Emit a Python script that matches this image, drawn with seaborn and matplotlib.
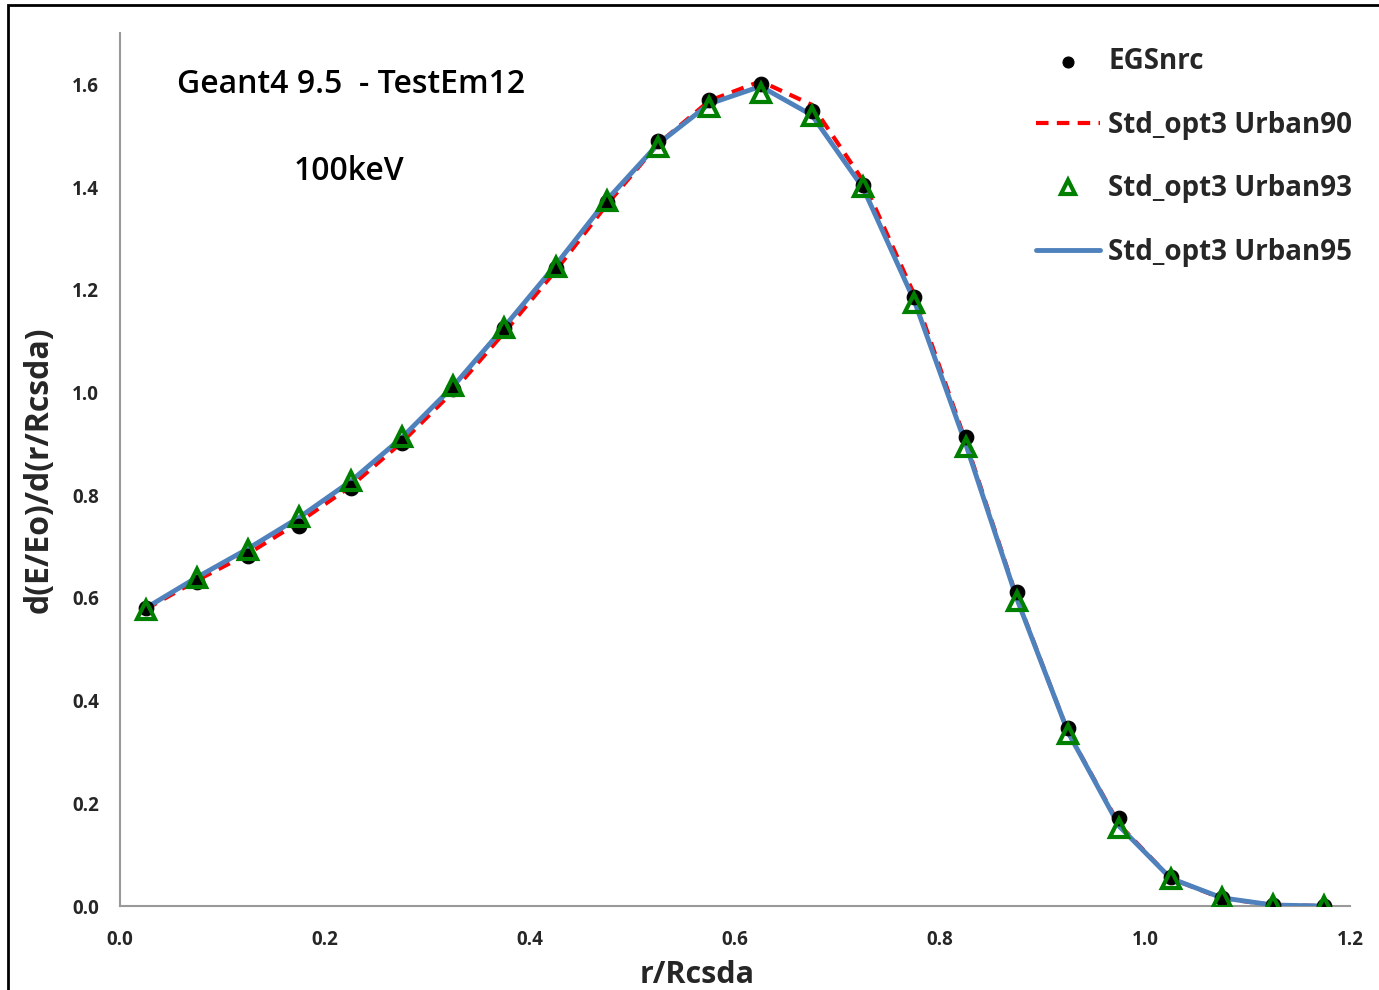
import matplotlib
matplotlib.use("Agg")
import matplotlib.pyplot as plt
import seaborn as sns
import pandas as pd
from matplotlib.patches import Rectangle

# ---- data ----
r = [0.025, 0.075, 0.125, 0.175, 0.225, 0.275, 0.325, 0.375, 0.425, 0.475,
     0.525, 0.575, 0.625, 0.675, 0.725, 0.775, 0.825, 0.875, 0.925, 0.975,
     1.025, 1.075, 1.125, 1.175]
egsnrc = [0.580, 0.630, 0.681, 0.740, 0.814, 0.901, 1.006, 1.125, 1.242, 1.370,
          1.489, 1.569, 1.600, 1.549, 1.403, 1.185, 0.913, 0.611, 0.346, 0.171,
          0.056, 0.016, 0.002, 0.000]
urban90 = [0.578, 0.634, 0.686, 0.748, 0.817, 0.903, 1.002, 1.117, 1.237, 1.366,
           1.484, 1.568, 1.606, 1.560, 1.412, 1.190, 0.905, 0.600, 0.338, 0.158,
           0.054, 0.015, 0.002, 0.000]
urban93 = [0.576, 0.638, 0.693, 0.757, 0.827, 0.913, 1.012, 1.125, 1.244, 1.372,
           1.477, 1.555, 1.584, 1.538, 1.401, 1.174, 0.893, 0.594, 0.335, 0.152,
           0.053, 0.016, 0.002, 0.000]
urban95 = [0.580, 0.640, 0.696, 0.757, 0.827, 0.912, 1.012, 1.128, 1.248, 1.375,
           1.484, 1.562, 1.596, 1.540, 1.398, 1.178, 0.900, 0.598, 0.338, 0.155,
           0.054, 0.016, 0.002, 0.000]

xticks = [0.0, 0.2, 0.4, 0.6, 0.8, 1.0, 1.2]
yticks = [0.0, 0.2, 0.4, 0.6, 0.8, 1.0, 1.2, 1.4, 1.6]

df = pd.DataFrame({"r": r, "EGSnrc": egsnrc, "U90": urban90,
                   "U93": urban93, "U95": urban95})

sns.set_theme(style="white")
plt.rcParams["font.family"] = ["Open Sans", "DejaVu Sans"]

fig = plt.figure(figsize=(13.79, 9.90), dpi=100)
ax = fig.add_axes([0.087, 0.0848, 0.892, 0.8819])

fig.patches.append(Rectangle((0.006, -0.1), 1.2, 1.095, transform=fig.transFigure,
                             fill=False, edgecolor="black", linewidth=2.0))

sns.lineplot(data=df, x="r", y="U90", ax=ax, color="#FF0000", linewidth=3,
             linestyle=(0, (3, 2)), label="Std_opt3 Urban90", zorder=2)
sns.lineplot(data=df, x="r", y="U95", ax=ax, color="#4F81BD", linewidth=3.5,
             label="Std_opt3 Urban95", zorder=3)
sns.scatterplot(data=df, x="r", y="EGSnrc", ax=ax, color="black", s=110,
                marker="o", edgecolor="black", label="EGSnrc", zorder=4)
ax.plot(df["r"], df["U93"], linestyle="none", marker="^", markersize=13,
        markerfacecolor="none", markeredgecolor="#008000", markeredgewidth=3,
        label="Std_opt3 Urban93", zorder=5)

ax.set_xlim(0, 1.2)
ax.set_ylim(0, 1.7)
ax.set_xticks(xticks)
ax.set_yticks(yticks)
ax.set_xticklabels([f"{v:.1f}" for v in xticks], fontsize=13.5, fontweight="bold")
ax.set_yticklabels([f"{v:.1f}" for v in yticks], fontsize=13.5, fontweight="bold")
ax.tick_params(axis="x", direction="out", length=9, width=1.2, color="#999999", pad=8)
ax.tick_params(axis="y", direction="out", length=7, width=1.2, color="#999999", pad=8)
for s in ["top", "right"]:
    ax.spines[s].set_visible(False)
for s in ["left", "bottom"]:
    ax.spines[s].set_color("#999999")
    ax.spines[s].set_linewidth(1.5)

ax.set_xlabel("r/Rcsda", fontsize=22, fontweight="bold")
ax.xaxis.set_label_coords(0.469, -0.062)
ax.set_ylabel("d(E/Eo)/d(r/Rcsda)", fontsize=23, fontweight="bold")
ax.yaxis.set_label_coords(-0.052, 0.5)

ax.text(0.046, 0.941, "Geant4 9.5  - TestEm12", transform=ax.transAxes,
        fontsize=23, va="center", ha="left", color="black", fontweight="semibold")
ax.text(0.141, 0.841, "100keV", transform=ax.transAxes,
        fontsize=23, va="center", ha="left", color="black", fontweight="semibold")

handles, labels = ax.get_legend_handles_labels()
order = ["EGSnrc", "Std_opt3 Urban90", "Std_opt3 Urban93", "Std_opt3 Urban95"]
hmap = dict(zip(labels, handles))
leg = ax.legend([hmap[k] for k in order], order, loc="upper right",
                bbox_to_anchor=(1.022, 1.012), frameon=False,
                prop={"weight": "bold", "size": 20}, labelspacing=1.24,
                handlelength=2.3, handletextpad=0.3, markerscale=0.75)

fig.savefig("out.png", dpi=100)
